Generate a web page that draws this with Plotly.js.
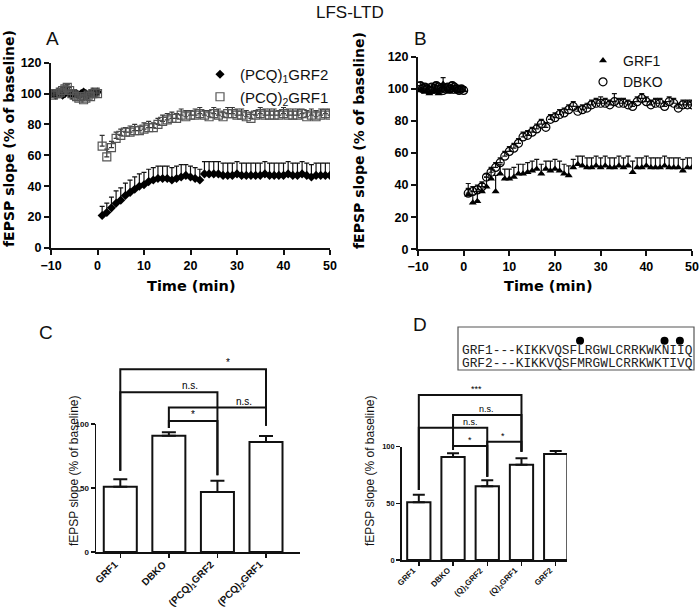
<!DOCTYPE html>
<html><head><meta charset="utf-8">
<script src="https://cdn.plot.ly/plotly-3.0.1.min.js"></script>
<style>html,body{margin:0;padding:0;background:#fff}</style>
</head><body><div id="chart" style="width:700px;height:607px"></div>
<script>
// ---------------- DATA ----------------
// time course (min): baseline then post-LFS
const timeMin = [-9.5,-9,-8.5,-8,-7.5,-7,-6.5,-6,-5.5,-5,-4.5,-4,-3.5,-3,-2.5,-2,-1.5,-1,-0.5,0,
  1,2,3,4,5,6,7,8,9,10,11,12,13,14,15,16,17,18,19,20,21,22,23,24,25,26,27,28,29,30,
  31,32,33,34,35,36,37,38,39,40,41,42,43,44,45,46,47,48,49,50];

// Panel A
const pcq1grf2 = [100,99,101,100,99,100,101,100,99,100,100,99,100,101,100,99,100,101,100,101,
  21,23,26,29,31,34,36,38,40,41,43,44,45,45,45,44,45,46,47,46,45,44,48,48,48,48,47,47,47,48,
  47,47,47,47,47,48,47,47,47,47,48,47,47,48,47,46,47,47,47,47];
const pcq1grf2Sem = [1,2,1,1,2,1,1,2,1,1,1,2,1,1,1,2,1,1,2,1,
  6,6,7,8,8,8,8,8,8,8,8,8,8,8,8,8,8,8,7,7,7,7,8,8,8,8,8,8,8,8,
  8,8,8,8,8,8,8,8,8,8,8,8,8,8,8,8,8,8,8,8];
const pcq2grf1 = [99,100,100,101,102,103,104,102,100,99,98,97,98,96,97,99,98,100,101,100,
  66,59,65,71,73,75,75,76,76,77,78,78,80,82,83,84,84,86,85,86,86,87,86,85,87,86,85,87,87,86,
  86,85,84,86,87,86,86,86,86,87,86,86,86,87,85,86,85,86,87,86];
const pcq2grf1Sem = [2,2,1,2,2,2,2,2,2,1,2,2,1,2,2,1,2,1,2,1,
  7,5,4,4,4,3,4,4,3,4,4,3,4,4,4,4,3,4,4,3,4,4,3,4,4,4,3,4,4,4,
  4,4,4,3,4,4,4,4,3,4,4,4,4,3,4,4,4,4,3,4];

// Panel B
const grf1 = [99,100,98,99,97,98,99,98,97,99,103,100,99,98,100,99,98,99,100,99,
  34,29,30,36,39,44,36,47,44,44,45,47,47,48,49,50,47,50,49,50,49,47,46,51,53,52,51,51,52,51,
  52,51,51,52,51,52,48,51,51,52,51,51,51,52,51,51,51,49,51,51];
const grf1Sem = [2,3,2,3,2,3,2,2,3,2,4,3,2,3,2,2,3,2,2,2,
  7,5,6,5,6,6,10,6,6,6,6,6,6,6,6,6,6,5,6,6,6,6,6,5,5,6,6,6,6,6,
  6,6,6,6,6,6,7,6,6,6,6,6,6,6,6,6,6,7,6,6];
const dbko = [102,100,101,100,99,101,100,102,101,100,99,100,101,100,102,101,100,99,100,99,
  35,36,37,39,45,48,51,54,58,61,63,66,70,71,73,75,78,76,81,82,84,85,87,89,86,87,88,90,91,91,
  91,90,92,91,91,90,89,92,94,92,90,91,91,89,92,91,88,90,90,90];
const dbkoSem = [2,3,2,3,2,2,3,2,2,2,2,3,2,2,2,2,2,2,2,2,
  3,3,3,3,2,3,3,3,3,3,3,3,3,3,3,3,3,3,3,3,3,3,3,3,3,3,3,3,3,4,
  3,3,5,3,3,3,3,3,3,3,3,3,3,3,3,3,3,3,3,3];

// Panel C
const cCategories = ['GRF1','DBKO','(PCQ)<sub>1</sub>GRF2','(PCQ)<sub>2</sub>GRF1'];
const cMeans = [51, 91, 47, 86];
const cSem = [6, 2.7, 8.8, 4.8];
const cBracketFrom = [0, 0, 1, 1];
const cBracketTo = [3, 2, 3, 2];
const cBracketY = [143, 125, 113, 102.5];
const cLegFromBottom = [63.5, 63.5, 97, 97];
const cLegToBottom = [98.7, 60, 98.7, 60];
const cLabels = ['*', 'n.s.', 'n.s.', '*'];
const cLabelX = [2.22, 1.44, 2.54, 1.5];

// Panel D
const dCategories = ['GRF1','DBKO','(Q)<sub>1</sub>GRF2','(Q)<sub>2</sub>GRF1','GRF2'];
const dMeans = [51, 91, 65, 84, 93.5];
const dSem = [6.5, 3.3, 5.4, 5.9, 2.7];
const dBracketFrom = [0, 1, 0, 1, 2];
const dBracketTo = [3, 3, 2, 2, 3];
const dBracketY = [145.6, 128, 116.8, 100.6, 104.4];
const dLegFromBottom = [61.8, 100.6, 61.8, 97, 73.5];
const dLegToBottom = [95.6, 95.6, 73.5, 73.5, 95.6];
const dLabels = ['***', 'n.s.', 'n.s.', '*', '*'];
const dLabelX = [1.69, 1.99, 1.52, 1.5, 2.47];

// Inset sequences
const seqNames = ['GRF1', 'GRF2'];
const seqs = ['KIKKVQSFLRGWLCRRKWKNIIQ', 'KIKKVQSFMRGWLCRRKWKTIVQ'];

// ---------------- HELPERS ----------------
const H = 607, W = 700;
const py = v => 1 - v / H;
const px = v => v / W;
const zeros = n => new Array(n).fill(0);
const tickFontAB = {family: 'Liberation Sans, Arial', size: 12.5, color: '#000', weight: 'bold'};
const titleFontAB = {family: 'DejaVu Sans', size: 14, color: '#000', weight: 'bold'};

function bracketTrace(from, to, yv, lf, lt, xa, ya) {
  const xs = [], ys = [];
  for (let i = 0; i < from.length; i++) {
    xs.push(from[i], from[i], to[i], to[i], null);
    ys.push(lf[i], yv[i], yv[i], lt[i], null);
  }
  return {x: xs, y: ys, xaxis: xa, yaxis: ya, mode: 'lines', type: 'scatter',
    line: {color: '#111', width: 2}, showlegend: false, hoverinfo: 'skip'};
}
function errUp(arr, w, t, c) {
  return {type: 'data', symmetric: false, array: arr, arrayminus: zeros(arr.length),
    width: w, thickness: t, color: c || '#111'};
}

// ---------------- TRACES ----------------
const traces = [];
traces.push({x: timeMin, y: pcq1grf2, xaxis: 'x', yaxis: 'y', type: 'scatter', mode: 'markers',
  name: '(PCQ)<sub>1</sub>GRF2', legend: 'legend',
  marker: {symbol: 'diamond', size: 7, color: '#000'}, error_y: errUp(pcq1grf2Sem, 2.5, 1.2)});
traces.push({x: timeMin, y: pcq2grf1, xaxis: 'x', yaxis: 'y', type: 'scatter', mode: 'markers',
  name: '(PCQ)<sub>2</sub>GRF1', legend: 'legend',
  marker: {symbol: 'square-open', size: 8, color: '#555', line: {width: 1.2}}, error_y: errUp(pcq2grf1Sem, 2.5, 1.2, '#333')});
traces.push({x: timeMin, y: grf1, xaxis: 'x2', yaxis: 'y2', type: 'scatter', mode: 'markers',
  name: 'GRF1', legend: 'legend2',
  marker: {symbol: 'triangle-up', size: 7, color: '#000'}, error_y: errUp(grf1Sem, 2.5, 1.2)});
traces.push({x: timeMin, y: dbko, xaxis: 'x2', yaxis: 'y2', type: 'scatter', mode: 'markers',
  name: 'DBKO', legend: 'legend2',
  marker: {symbol: 'circle-open', size: 8, color: '#000', line: {width: 1.2}}, error_y: errUp(dbkoSem, 2.5, 1.2)});

const cIdx = cCategories.map((_, i) => i);
const dIdx = dCategories.map((_, i) => i);
traces.push({x: cIdx, y: cMeans, xaxis: 'x3', yaxis: 'y5', type: 'bar', width: 0.68,
  marker: {color: '#fff', line: {color: '#111', width: 2}}, error_y: errUp(cSem, 7, 2), showlegend: false, hoverinfo: 'skip'});
traces.push(bracketTrace(cBracketFrom, cBracketTo, cBracketY, cLegFromBottom, cLegToBottom, 'x3', 'y3'));
traces.push({x: dIdx, y: dMeans, xaxis: 'x4', yaxis: 'y6', type: 'bar', width: 0.68,
  marker: {color: '#fff', line: {color: '#111', width: 2}}, error_y: errUp(dSem, 6, 2), showlegend: false, hoverinfo: 'skip'});
traces.push(bracketTrace(dBracketFrom, dBracketTo, dBracketY, dLegFromBottom, dLegToBottom, 'x4', 'y4'));

// inset dots above differing residues
const prefix = seqNames[0].length + 3;
const dotX = [];
for (let i = 0; i < seqs[0].length; i++) if (seqs[0][i] !== seqs[1][i]) dotX.push(prefix + i + 0.5);
traces.push({x: dotX, y: dotX.map(() => 0), xaxis: 'x7', yaxis: 'y7', type: 'scatter', mode: 'markers',
  marker: {size: 8, color: '#000'}, showlegend: false, hoverinfo: 'skip'});

// ---------------- LAYOUT ----------------
const monoSize = 12.8, charW = monoSize * 0.6;
const seqLeft = 461;
const totalChars = prefix + seqs[0].length;

function timeX(dom) {
  return {domain: dom, range: [-10, 50], tickvals: [-10, 0, 10, 20, 30, 40, 50], ticks: 'outside',
    ticklen: 5, tickwidth: 2, showline: true, linewidth: 2, linecolor: '#111', tickcolor: '#111',
    showgrid: false, zeroline: false, tickfont: tickFontAB};
}
function timeY(dom, anchor) {
  return {domain: dom, range: [0, 120], tickvals: [0, 20, 40, 60, 80, 100, 120], ticks: 'outside',
    ticklen: 5, tickwidth: 2, showline: true, linewidth: 2, linecolor: '#111', tickcolor: '#111',
    showgrid: false, zeroline: false, tickfont: tickFontAB, anchor: anchor};
}
function barX(dom, rng, cats, anchor) {
  return {domain: dom, range: rng, tickvals: cats.map((_, i) => i), showticklabels: false,
    ticks: 'outside', ticklen: 4, tickwidth: 1.5, showline: true, linewidth: 1.5, linecolor: '#111',
    tickcolor: '#111', showgrid: false, zeroline: false, anchor: anchor};
}
function barYVis(dom, anchor, fs) {
  return {domain: dom, range: [0, 100], tickvals: [0, 50, 100], ticks: 'outside', ticklen: 4, tickwidth: 1.5,
    showline: true, linewidth: 1.5, linecolor: '#111', tickcolor: '#111', showgrid: false, zeroline: false,
    anchor: anchor, tickfont: {family: 'Liberation Sans, Arial', size: fs, color: '#111', weight: 'bold'}};
}
function hiddenY(dom, anchor) {
  return {domain: dom, range: [0, 150], visible: false, anchor: anchor, showgrid: false, zeroline: false};
}

const annotations = [];
function ann(text, x, y, font, extra) {
  annotations.push(Object.assign({text: text, x: px(x), y: py(y), xref: 'paper', yref: 'paper',
    showarrow: false, font: font, xanchor: 'center', yanchor: 'middle'}, extra || {}));
}
ann('LFS-LTD', 350, 13, {family: 'Liberation Sans, Arial', size: 17, color: '#111'});
const letterFont = {family: 'Liberation Sans, Arial', size: 19, color: '#111'};
ann('A', 52, 38, letterFont); ann('B', 420, 38, letterFont);
ann('C', 46, 333, letterFont); ann('D', 420, 325, letterFont);
const yTitle = 'fEPSP slope (% of baseline)';
ann(yTitle, 9, 139, titleFontAB, {textangle: -90});
ann(yTitle, 359, 141, titleFontAB, {textangle: -90});
ann('Time (min)', 191, 286, Object.assign({}, titleFontAB, {size: 14.5}));
ann('Time (min)', 548, 286, Object.assign({}, titleFontAB, {size: 14.5}));
const cdTitle = {family: 'Liberation Sans, Arial', size: 12, color: '#111'};
ann(yTitle, 74, 471, cdTitle, {textangle: -90});
ann(yTitle, 370, 471, cdTitle, {textangle: -90});

// rotated category labels
function catLabels(cats, xref, axisY, fs, xs, ys) {
  cats.forEach((t, i) => annotations.push({text: t, x: i, y: py(axisY), xref: xref, yref: 'paper',
    showarrow: false, textangle: -45, xanchor: 'right', yanchor: 'top', xshift: xs, yshift: ys,
    font: {family: 'Liberation Sans, Arial', size: fs, color: '#111', weight: 'bold'}}));
}
catLabels(cCategories, 'x3', 552, 10, 2, -4);
catLabels(dCategories, 'x4', 560, 8, 2, -3);

// significance labels
cLabels.forEach((t, i) => annotations.push({text: t, x: cLabelX[i], y: cBracketY[i], xref: 'x3', yref: 'y3',
  showarrow: false, yanchor: 'bottom', xanchor: 'center', yshift: -1,
  font: {family: 'Liberation Sans, Arial', size: 10, color: '#000'}}));
dLabels.forEach((t, i) => annotations.push({text: t, x: dLabelX[i], y: dBracketY[i], xref: 'x4', yref: 'y4',
  showarrow: false, yanchor: 'bottom', xanchor: 'center', yshift: -1,
  font: {family: 'Liberation Sans, Arial', size: 9, color: '#000'}}));

// inset text
const monoFont = {family: 'Liberation Mono, Courier New, monospace', size: monoSize, color: '#222'};
ann(seqNames[0] + '---' + seqs[0], seqLeft, 350.5, monoFont, {xanchor: 'left', borderpad: 0});
ann(seqNames[1] + '---' + seqs[1], seqLeft, 363.5, monoFont, {xanchor: 'left', borderpad: 0});

const layout = {
  width: W, height: H, margin: {l: 0, r: 0, t: 0, b: 0},
  paper_bgcolor: '#fff', plot_bgcolor: 'rgba(0,0,0,0)',
  xaxis: timeX([px(51), px(330)]),
  yaxis: timeY([py(248), py(62.7)], 'x'),
  xaxis2: Object.assign(timeX([px(418), px(692)]), {anchor: 'y2'}),
  yaxis2: timeY([py(249.3), py(56.7)], 'x2'),
  xaxis3: barX([px(96), px(300)], [-0.5, 3.7], cCategories, 'y5'),
  yaxis3: hiddenY([py(552), py(360.3)], 'x3'),
  yaxis5: barYVis([py(552), py(424.2)], 'x3', 8),
  xaxis4: barX([px(401.7), px(567)], [-0.5, 4.33], dCategories, 'y6'),
  yaxis4: hiddenY([py(560), py(390)], 'x4'),
  yaxis6: barYVis([py(560), py(446.7)], 'x4', 7.5),
  xaxis7: {domain: [px(seqLeft), px(seqLeft + totalChars * charW)], range: [0, totalChars], visible: false, anchor: 'y7'},
  yaxis7: {domain: [py(345.7), py(335.7)], range: [-1, 1], visible: false, anchor: 'x7'},
  legend: {x: px(200), y: py(58), xanchor: 'left', yanchor: 'top', bgcolor: 'rgba(0,0,0,0)',
    font: {family: 'Liberation Sans, Arial', size: 15, color: '#111'}, traceorder: 'normal'},
  legend2: {x: px(583), y: py(45), xanchor: 'left', yanchor: 'top', bgcolor: 'rgba(0,0,0,0)',
    font: {family: 'Liberation Sans, Arial', size: 14, color: '#111'}, traceorder: 'normal'},
  shapes: [{type: 'rect', xref: 'paper', yref: 'paper', x0: px(458), x1: px(694), y0: py(370), y1: py(327),
    line: {color: '#555', width: 1.2}}],
  annotations: annotations
};

Plotly.newPlot('chart', traces, layout, {displayModeBar: false, staticPlot: true});
</script></body></html>
